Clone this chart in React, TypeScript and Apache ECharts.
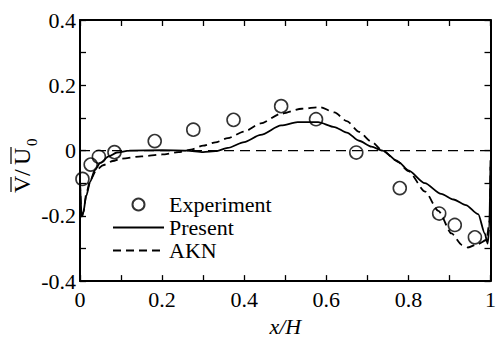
import React, { useEffect, useRef } from "react";
import * as echarts from "echarts";

const expX = [0.006, 0.026, 0.046, 0.084, 0.182, 0.276, 0.374, 0.49, 0.575, 0.673, 0.779, 0.875, 0.913, 0.962];
const expY = [-0.087, -0.043, -0.019, -0.005, 0.029, 0.064, 0.094, 0.136, 0.096, -0.006, -0.115, -0.193, -0.228, -0.266];

const presentX = [0, 0.004, 0.008, 0.015, 0.025, 0.036, 0.05, 0.07, 0.09, 0.12, 0.2, 0.26, 0.3, 0.33, 0.36, 0.4, 0.44, 0.49, 0.53, 0.58, 0.62, 0.65, 0.68, 0.71, 0.737, 0.777, 0.8, 0.84, 0.88, 0.91, 0.94, 0.97, 0.986, 0.993, 0.997, 1];
const presentY = [-0.09, -0.2, -0.19, -0.14, -0.095, -0.06, -0.037, -0.018, -0.006, 0, 0.001, 0, -0.005, -0.002, 0.008, 0.026, 0.048, 0.077, 0.087, 0.087, 0.072, 0.055, 0.03, 0.012, 0, -0.036, -0.061, -0.1, -0.133, -0.15, -0.167, -0.195, -0.254, -0.285, -0.24, -0.03];

const aknX = [0, 0.004, 0.008, 0.016, 0.025, 0.04, 0.056, 0.08, 0.1, 0.15, 0.2, 0.24, 0.27, 0.3, 0.33, 0.36, 0.4, 0.44, 0.49, 0.54, 0.585, 0.62, 0.65, 0.68, 0.71, 0.737, 0.77, 0.8, 0.841, 0.873, 0.905, 0.93, 0.945, 0.97, 0.99, 0.998, 1];
const aknY = [-0.1, -0.21, -0.19, -0.128, -0.09, -0.06, -0.045, -0.032, -0.025, -0.018, -0.012, -0.005, 0.003, 0.015, 0.025, 0.038, 0.058, 0.083, 0.113, 0.128, 0.133, 0.117, 0.09, 0.057, 0.027, 0, -0.03, -0.063, -0.126, -0.185, -0.254, -0.289, -0.297, -0.286, -0.274, -0.215, -0.05];

const zeroLineX = [0, 1];
const zeroLineY = [0, 0];

const xTickValues = [0, 0.2, 0.4, 0.6, 0.8, 1];
const xTickLabels = ["0", "0.2", "0.4", "0.6", "0.8", "1"];
const yTickValues = [-0.4, -0.2, 0, 0.2, 0.4];
const yTickLabels = ["-0.4", "-0.2", "0", "0.2", "0.4"];

const FONT = "Liberation Serif";

const pairs = (xs: number[], ys: number[]) => xs.map((x, i) => [x, ys[i]]);
const labelFor = (vals: number[], labels: string[]) => (v: number) => {
  const i = vals.findIndex((t) => Math.abs(t - v) < 1e-6);
  return i >= 0 ? labels[i] : "";
};

const txt = (text: string, x: number, y: number, size: number) => ({
  type: "text",
  x,
  y,
  style: { text, fontFamily: FONT, fontSize: size, fill: "#000", verticalAlign: "middle", align: "left" },
});

export default function App() {
  const ref = useRef<HTMLDivElement>(null);
  useEffect(() => {
    if (!ref.current) return;
    const chart = echarts.init(ref.current, undefined, { renderer: "svg" });
    const axisCommon = {
      type: "value" as const,
      interval: 0.1,
      axisLine: { show: true, onZero: false, lineStyle: { color: "#000", width: 2 } },
      axisTick: { show: true, inside: true, length: 6, lineStyle: { color: "#000", width: 1.3 } },
      splitLine: { show: false },
    };
    chart.setOption({
      animation: false,
      backgroundColor: "#fff",
      textStyle: { fontFamily: FONT },
      grid: { left: 80, right: 3, top: 20, bottom: 53, containLabel: false },
      xAxis: [
        {
          ...axisCommon,
          min: 0,
          max: 1,
          position: "bottom",
          name: "x/H",
          nameLocation: "middle",
          nameGap: 31,
          nameTextStyle: { fontFamily: FONT, fontSize: 22, fontStyle: "italic", color: "#000" },
          axisLabel: {
            show: true,
            margin: 7,
            fontFamily: FONT,
            fontSize: 22,
            color: "#000",
            formatter: labelFor(xTickValues, xTickLabels),
          },
        },
        {
          ...axisCommon,
          min: 0,
          max: 1,
          position: "top",
          axisLabel: { show: false },
        },
      ],
      yAxis: [
        {
          ...axisCommon,
          min: -0.4,
          max: 0.4,
          position: "left",
          axisLabel: {
            show: true,
            margin: 4,
            fontFamily: FONT,
            fontSize: 22,
            color: "#000",
            formatter: labelFor(yTickValues, yTickLabels),
          },
        },
        {
          ...axisCommon,
          min: -0.4,
          max: 0.4,
          position: "right",
          axisLabel: { show: false },
        },
      ],
      legend: {
        orient: "vertical",
        left: 112,
        top: 193,
        itemWidth: 51,
        itemHeight: 12,
        itemGap: 0,
        padding: 0,
        data: ["Experiment", "Present", "AKN"],
        textStyle: { fontFamily: FONT, fontSize: 22, color: "#000", lineHeight: 23 },
      },
      graphic: [
        {
          type: "group",
          x: 30,
          y: 193,
          rotation: Math.PI / 2,
          children: [
            txt("V", 0, -8, 24),
            txt("/", 17, -8, 24),
            txt("U", 28, -8, 24),
            txt("0", 47, 2, 15),
            { type: "line", shape: { x1: 1, y1: -19, x2: 16, y2: -19 }, style: { stroke: "#000", lineWidth: 1.2 } },
            { type: "line", shape: { x1: 29, y1: -19, x2: 46, y2: -19 }, style: { stroke: "#000", lineWidth: 1.2 } },
          ],
        },
      ],
      series: [
        {
          name: "zero",
          type: "line",
          data: pairs(zeroLineX, zeroLineY),
          symbol: "none",
          lineStyle: { color: "#000", width: 1.2, type: [10, 6] },
          silent: true,
          z: 1,
        },
        {
          name: "Present",
          type: "line",
          data: pairs(presentX, presentY),
          symbol: "none",
          smooth: 0.25,
          smoothMonotone: "x",
          lineStyle: { color: "#000", width: 1.8, type: "solid" },
          itemStyle: { color: "rgba(0,0,0,0)", borderWidth: 0 },
          z: 2,
        },
        {
          name: "AKN",
          type: "line",
          data: pairs(aknX, aknY),
          symbol: "none",
          smooth: 0.25,
          smoothMonotone: "x",
          lineStyle: { color: "#000", width: 1.8, type: [8, 5] },
          itemStyle: { color: "rgba(0,0,0,0)", borderWidth: 0 },
          z: 2,
        },
        {
          name: "Experiment",
          type: "scatter",
          data: pairs(expX, expY),
          symbol: "circle",
          symbolSize: 13,
          itemStyle: { color: "rgba(255,255,255,0)", borderColor: "#000", borderWidth: 1.6 },
          z: 3,
        },
      ],
    });
    return () => chart.dispose();
  }, []);
  return <div ref={ref} style={{ position: "fixed", left: 0, top: 0, width: 499, height: 342 }} />;
}
